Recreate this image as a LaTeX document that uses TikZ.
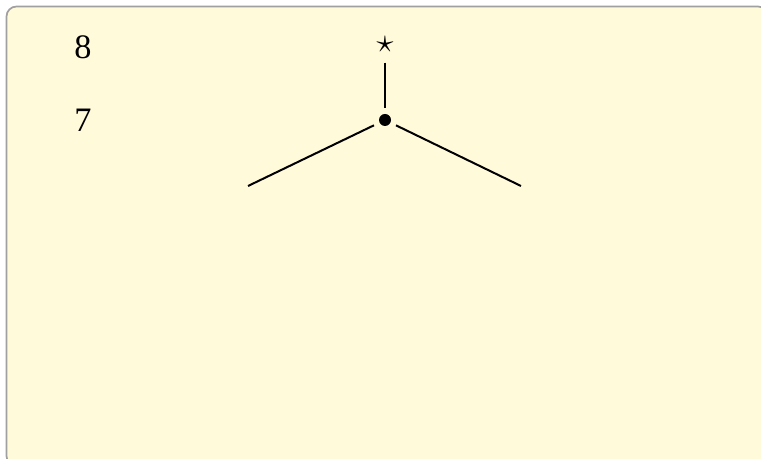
\documentclass[tikz,border=0pt]{standalone}
\usepackage{xcolor}
\usepackage{fontspec}
\setmainfont{Liberation Serif}
\usepackage{tikz}
\usetikzlibrary{
    positioning
}

\definecolor{paper}{RGB}{255,250,218}
\definecolor{frame}{RGB}{160,160,160}

\begin{document}
\begin{tikzpicture}[
    x=0.35pt,
    y=-0.35pt,
    background/.style={
        draw=frame,
        fill=paper,
        line width=0.6pt,
        rounded corners=3.5pt
    },
    level/.style={
        font=\large,
        inner sep=0pt
    },
    rootnode/.style={
        inner sep=0pt,
        minimum size=11.9pt,
        font=\large
    },
    branchnode/.style={
        circle,
        fill,
        inner sep=0pt,
        minimum size=4.2pt,
        outer sep=2.2pt
    },
    edge/.style={
        line width=0.7pt
    }
]

% ============================================================
% BACKGROUND
% ============================================================

\useasboundingbox (0,0) rectangle (761,459);
\path[background] (6.5,6.5) rectangle (768,466);

% ============================================================
% LEVELS
% ============================================================

\node[level] (level8) at (83,47) {8};
\node[level] (level7) at (83,120) {7};

% ============================================================
% TREE
% ============================================================

\node[rootnode] (root) at (385,45) {$\star$};
\node[branchnode] (branch) at (385,120) {};

\coordinate (leftleaf) at (248,186);
\coordinate (rightleaf) at (521,186);

% ============================================================
% CONNECTIONS
% ============================================================

\draw[edge] (root) -- (branch);
\draw[edge] (branch) -- (leftleaf);
\draw[edge] (branch) -- (rightleaf);

\end{tikzpicture}
\end{document}
